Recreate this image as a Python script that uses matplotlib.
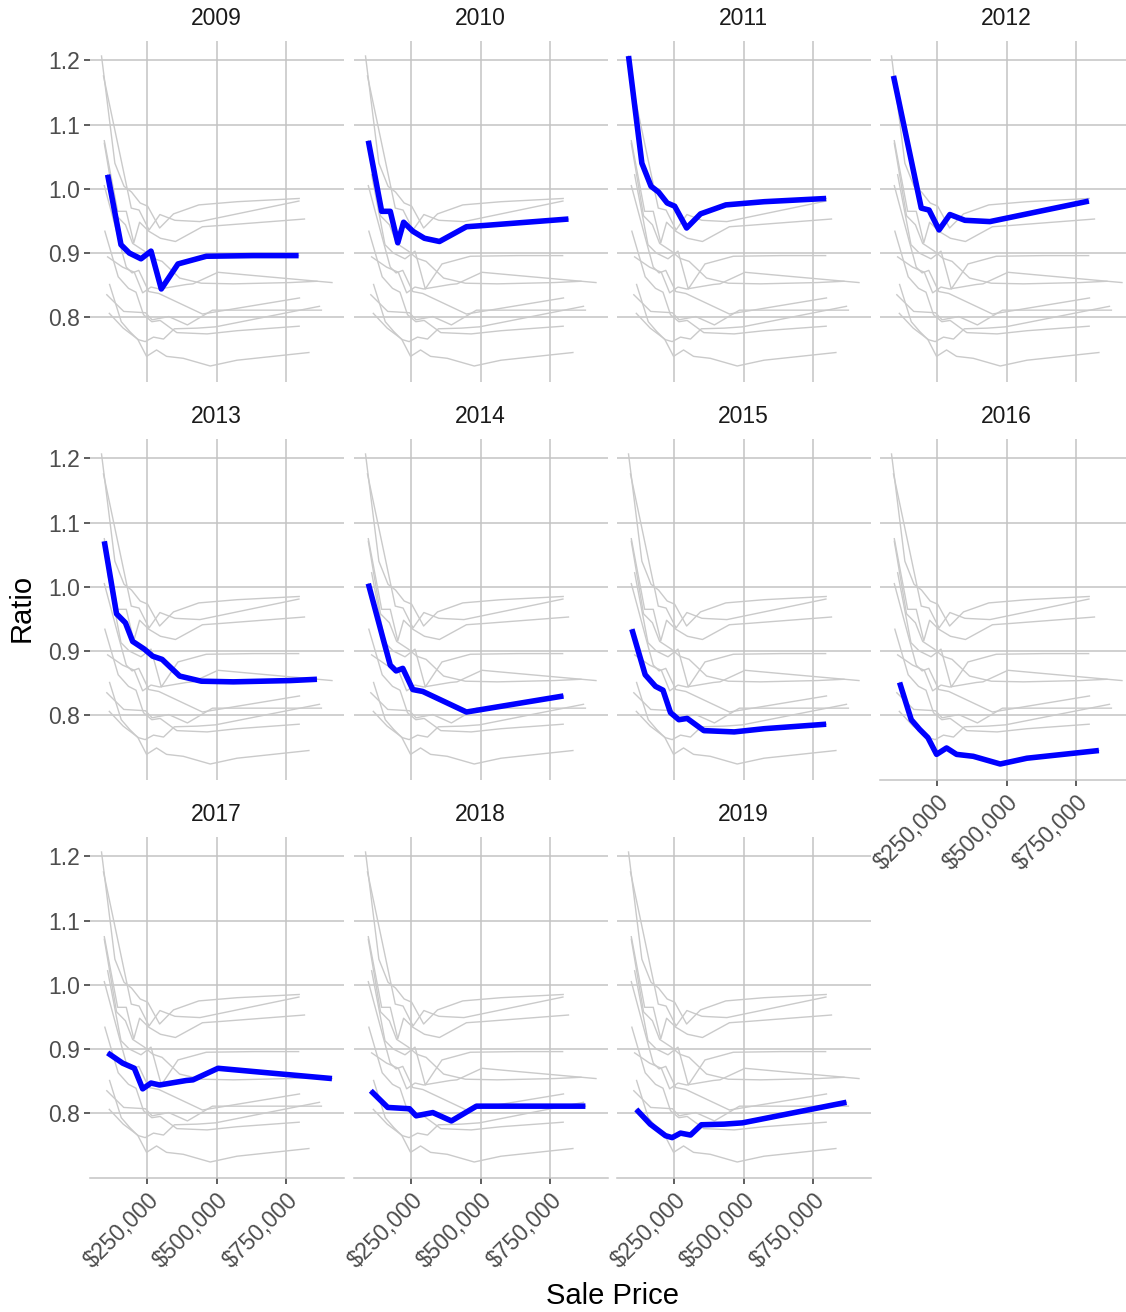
import matplotlib
matplotlib.use("Agg")
import matplotlib.pyplot as plt
from matplotlib.ticker import FuncFormatter

plt.rcParams['font.family'] = ['Liberation Sans', 'DejaVu Sans']

# sale price (x) and ratio (y) for each year
price_2009 = [108000, 156000, 186000, 228000, 264000, 301000, 361000, 463000, 632000, 795000]
ratio_2009 = [1.022, 0.913, 0.900, 0.891, 0.903, 0.844, 0.883, 0.895, 0.896, 0.896]

price_2010 = [96000, 144000, 175000, 202000, 223000, 256000, 298000, 352000, 449000, 515000, 816000]
ratio_2010 = [1.075, 0.965, 0.965, 0.916, 0.948, 0.934, 0.923, 0.918, 0.941, 0.943, 0.953]

price_2011 = [86000, 134000, 167000, 194000, 225000, 252000, 295000, 345000, 436000, 574000, 797000]
ratio_2011 = [1.207, 1.040, 1.004, 0.995, 0.978, 0.973, 0.939, 0.961, 0.975, 0.980, 0.985]

price_2012 = [93000, 193000, 221000, 257000, 296000, 350000, 440000, 796000]
ratio_2012 = [1.176, 0.970, 0.967, 0.936, 0.960, 0.951, 0.949, 0.981]

price_2013 = [96000, 140000, 172000, 198000, 240000, 270000, 304000, 367000, 445000, 560000, 765000, 861000]
ratio_2013 = [1.071, 0.958, 0.944, 0.915, 0.903, 0.892, 0.887, 0.861, 0.853, 0.852, 0.854, 0.856]

price_2014 = [96000, 148000, 175000, 196000, 220000, 256000, 292000, 449000, 798000]
ratio_2014 = [1.005, 0.921, 0.878, 0.869, 0.873, 0.840, 0.837, 0.805, 0.830]

price_2015 = [98000, 146000, 183000, 210000, 237000, 267000, 297000, 357000, 466000, 574000, 797000]
ratio_2015 = [0.934, 0.863, 0.845, 0.839, 0.804, 0.793, 0.795, 0.776, 0.774, 0.779, 0.786]

price_2016 = [115000, 157000, 187000, 217000, 248000, 284000, 320000, 380000, 477000, 573000, 832000]
ratio_2016 = [0.851, 0.793, 0.778, 0.765, 0.739, 0.749, 0.739, 0.736, 0.724, 0.733, 0.745]

price_2017 = [108000, 162000, 204000, 234000, 264000, 295000, 391000, 415000, 505000, 632000, 915000]
ratio_2017 = [0.894, 0.878, 0.870, 0.838, 0.847, 0.844, 0.851, 0.852, 0.870, 0.865, 0.854]

price_2018 = [105000, 166000, 244000, 268000, 328000, 395000, 485000, 636000, 877000]
ratio_2018 = [0.835, 0.809, 0.807, 0.796, 0.801, 0.788, 0.811, 0.811, 0.811]

price_2019 = [114000, 164000, 219000, 243000, 273000, 309000, 348000, 430000, 496000, 870000]
ratio_2019 = [0.806, 0.783, 0.765, 0.762, 0.769, 0.766, 0.782, 0.783, 0.785, 0.817]

years = ['2009', '2010', '2011', '2012', '2013', '2014', '2015', '2016', '2017', '2018', '2019']
series = [
    (price_2009, ratio_2009), (price_2010, ratio_2010), (price_2011, ratio_2011),
    (price_2012, ratio_2012), (price_2013, ratio_2013), (price_2014, ratio_2014),
    (price_2015, ratio_2015), (price_2016, ratio_2016), (price_2017, ratio_2017),
    (price_2018, ratio_2018), (price_2019, ratio_2019),
]

x_ticks = [250000, 500000, 750000]
y_ticks = [0.8, 0.9, 1.0, 1.1, 1.2]

W, H = 1126, 1312
fig = plt.figure(figsize=(W / 100, H / 100), dpi=100)

col_left = [90, 354, 617, 880]
row_top = [40.5, 438.5, 836.5]
pw, ph = 253.5, 341

# limits from all data with ggplot-like 5% expansion
all_x = [v for s in series for v in s[0]]
all_y = [v for s in series for v in s[1]]
xpad = 0.05 * (max(all_x) - min(all_x))
ypad = 0.05 * (max(all_y) - min(all_y))
xlim = (min(all_x) - xpad, max(all_x) + xpad)
ylim = (min(all_y) - ypad, max(all_y) + ypad)

grid_col = '#C3C3C3'
line_grey = '#CACACA'
fs = 16.5

for i, year in enumerate(years):
    r, c = divmod(i, 4)
    ax = fig.add_axes([col_left[c] / W, 1 - (row_top[r] + ph) / H, pw / W, ph / H])
    ax.set_xlim(*xlim)
    ax.set_ylim(*ylim)
    ax.set_xticks(x_ticks)
    ax.set_yticks(y_ticks)
    ax.grid(True, color=grid_col, linewidth=1.1)
    ax.set_axisbelow(True)
    for sp in ax.spines.values():
        sp.set_visible(False)

    for px, ry in series:
        ax.plot(px, ry, color=line_grey, linewidth=1.0, zorder=2)
    px, ry = series[i]
    ax.plot(px, ry, color='#0000FF', linewidth=4.0, zorder=3,
            solid_capstyle='butt', solid_joinstyle='round')

    ax.text(0.5, 1 + 22 / ph, year, transform=ax.transAxes, ha='center',
            va='center', fontsize=fs, color='#1A1A1A')

    bottom = (i >= 8) or (i == 7)
    left = (c == 0)
    ax.tick_params(axis='x', length=4 if bottom else 0, width=1.1, color='#333333',
                   labelbottom=bottom, labelsize=fs, labelcolor='#4D4D4D', pad=4)
    ax.tick_params(axis='y', length=4 if left else 0, width=1.1, color='#333333',
                   labelleft=left, labelsize=fs, labelcolor='#4D4D4D', pad=3)
    if bottom:
        ax.spines['bottom'].set_visible(True)
        ax.spines['bottom'].set_color(grid_col)
        ax.spines['bottom'].set_linewidth(1.1)
        ax.xaxis.set_major_formatter(FuncFormatter(lambda v, p: '${:,.0f}'.format(v)))
        for lab in ax.get_xticklabels():
            lab.set_rotation(45)
            lab.set_ha('right')
            lab.set_rotation_mode('anchor')
    if left:
        ax.yaxis.set_major_formatter(FuncFormatter(lambda v, p: '{:.1f}'.format(v)))

fig.text(612 / W, 1 - 1296 / H, 'Sale Price', ha='center', va='center', fontsize=21)
fig.text(22 / W, 1 - 608 / H, 'Ratio', ha='center', va='center', rotation=90, fontsize=21)

fig.savefig('out.png', dpi=100)
